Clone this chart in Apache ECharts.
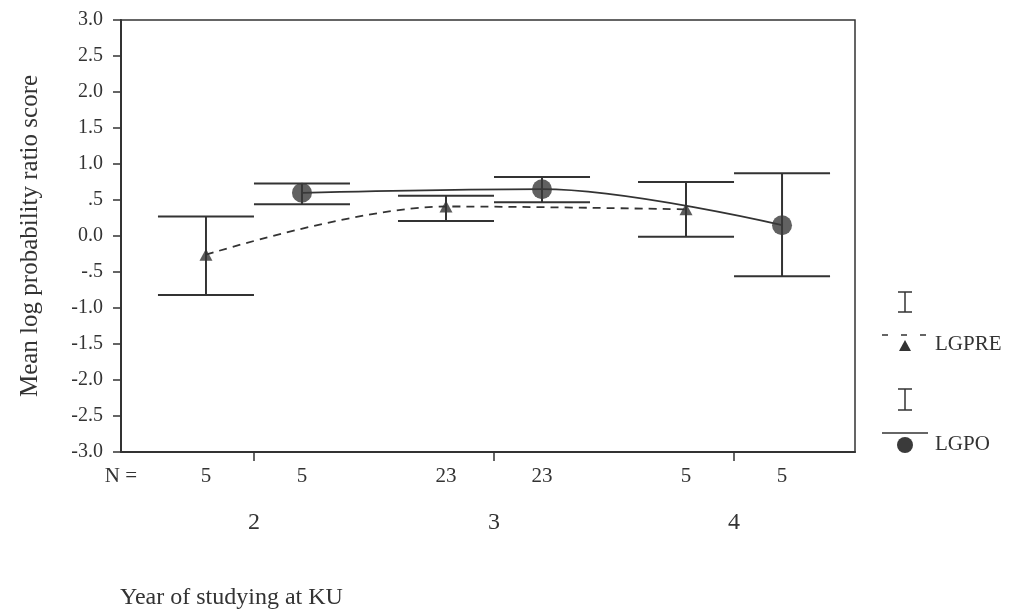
<!DOCTYPE html>
<html>
<head>
<meta charset="utf-8">
<script src="https://cdn.jsdelivr.net/npm/echarts@6/dist/echarts.min.js"></script>
<style>
  html, body { margin: 0; padding: 0; background: #fff; }
  #chart { width: 1014px; height: 610px; }
</style>
</head>
<body>
<div id="chart"></div>
<script>
// years on the x axis, groups drawn left/right of each year
const years = [2, 3, 4];
const yearLabels = ['2', '3', '4'];

// LGPRE (triangle, dashed line)
const preMean = [-0.26, 0.41, 0.37];
const preLow = [-0.82, 0.21, -0.01];
const preHigh = [0.27, 0.56, 0.75];
const preN = [5, 23, 5];

// LGPO (circle, solid line)
const poMean = [0.60, 0.65, 0.15];
const poLow = [0.44, 0.47, -0.56];
const poHigh = [0.73, 0.82, 0.87];
const poN = [5, 23, 5];

const yTicks = [-3, -2.5, -2, -1.5, -1, -0.5, 0, 0.5, 1, 1.5, 2, 2.5, 3];
const yTickLabels = ['-3.0', '-2.5', '-2.0', '-1.5', '-1.0', '-.5', '0.0', '.5', '1.0', '1.5', '2.0', '2.5', '3.0'];

const SHIFT = 0.2; // group offset from the year tick
const X_MIN = 1.446;
const X_MAX = 4.504;
const INK = '#333';
const SERIF = '"Liberation Serif", "DejaVu Serif", serif';

const preX = years.map(y => y - SHIFT);
const poX = years.map(y => y + SHIFT);

const nValues = [X_MIN];
const nLabels = ['N ='];
years.forEach((y, i) => {
  nValues.push(preX[i], poX[i]);
  nLabels.push(String(preN[i]), String(poN[i]));
});

function errorBar(params, api) {
  const x = api.value(0);
  const lo = api.coord([x, api.value(1)]);
  const hi = api.coord([x, api.value(2)]);
  const hw = api.size([SHIFT, 0])[0];
  const style = { stroke: INK, lineWidth: 2 };
  return {
    type: 'group',
    children: [
      { type: 'line', shape: { x1: lo[0], y1: lo[1], x2: hi[0], y2: hi[1] }, style },
      { type: 'line', shape: { x1: hi[0] - hw, y1: hi[1], x2: hi[0] + hw, y2: hi[1] }, style },
      { type: 'line', shape: { x1: lo[0] - hw, y1: lo[1], x2: lo[0] + hw, y2: lo[1] }, style },
    ],
  };
}

const chart = echarts.init(document.getElementById('chart'));

const legendLine = { stroke: INK, lineWidth: 1.5 };

const option = {
  backgroundColor: '#fff',
  animation: false,
  textStyle: { fontFamily: SERIF, color: INK },
  grid: {
    left: 121, right: 159, top: 20, bottom: 158,
    show: true, borderColor: INK, borderWidth: 1.5,
  },
  xAxis: [
    {
      type: 'value',
      min: X_MIN,
      max: X_MAX,
      position: 'bottom',
      splitLine: { show: false },
      axisLine: { onZero: false, lineStyle: { color: INK, width: 2 } },
      axisTick: {
        show: true, length: 9, inside: false,
        customValues: years,
        lineStyle: { color: INK, width: 1.5 },
      },
      axisLabel: {
        customValues: years,
        margin: 59,
        fontSize: 24,
        fontFamily: SERIF,
        color: INK,
        formatter: v => yearLabels[years.indexOf(Math.round(v))],
      },
    },
    {
      type: 'value',
      min: X_MIN,
      max: X_MAX,
      position: 'bottom',
      splitLine: { show: false },
      axisLine: { show: false, onZero: false },
      axisTick: { show: false },
      axisLabel: {
        customValues: nValues,
        showMinLabel: true,
        margin: 14,
        fontSize: 21,
        fontFamily: SERIF,
        color: INK,
        formatter: v => {
          const i = nValues.findIndex(n => Math.abs(n - v) < 1e-6);
          return i >= 0 ? nLabels[i] : '';
        },
      },
    },
  ],
  yAxis: {
    type: 'value',
    min: -3,
    max: 3,
    interval: 0.5,
    name: 'Mean log probability ratio score',
    nameLocation: 'middle',
    nameGap: 78,
    nameTextStyle: { fontSize: 25, fontFamily: SERIF, color: INK },
    splitLine: { show: false },
    axisLine: { show: true, lineStyle: { color: INK, width: 2 } },
    axisTick: { show: true, length: 8, lineStyle: { color: INK, width: 1.5 } },
    axisLabel: {
      margin: 18,
      fontSize: 20,
      fontFamily: SERIF,
      color: INK,
      formatter: v => {
        const i = yTicks.findIndex(t => Math.abs(t - v) < 1e-6);
        return i >= 0 ? yTickLabels[i] : '';
      },
    },
  },
  series: [
    {
      name: 'LGPRE',
      type: 'line',
      data: preX.map((x, i) => [x, preMean[i]]),
      smooth: 0.35,
      showSymbol: false,
      lineStyle: { color: INK, width: 1.8, type: [8, 6] },
      z: 2,
    },
    {
      name: 'LGPO',
      type: 'line',
      data: poX.map((x, i) => [x, poMean[i]]),
      smooth: 0.35,
      showSymbol: false,
      lineStyle: { color: INK, width: 1.8 },
      z: 2,
    },
    {
      name: 'LGPRE bars',
      type: 'custom',
      renderItem: errorBar,
      data: preX.map((x, i) => [x, preLow[i], preHigh[i]]),
      z: 3,
    },
    {
      name: 'LGPO bars',
      type: 'custom',
      renderItem: errorBar,
      data: poX.map((x, i) => [x, poLow[i], poHigh[i]]),
      z: 3,
    },
    {
      name: 'LGPRE mean',
      type: 'scatter',
      symbol: 'triangle',
      symbolSize: [13, 12],
      itemStyle: { color: INK },
      data: preX.map((x, i) => [x, preMean[i]]),
      z: 4,
    },
    {
      name: 'LGPO mean',
      type: 'scatter',
      symbol: 'circle',
      symbolSize: 20,
      itemStyle: { color: '#3a3a3a' },
      data: poX.map((x, i) => [x, poMean[i]]),
      z: 4,
    },
  ],
  graphic: [
    // legend: LGPRE
    { type: 'line', shape: { x1: 905, y1: 292, x2: 905, y2: 312 }, style: legendLine },
    { type: 'line', shape: { x1: 898, y1: 292, x2: 912, y2: 292 }, style: legendLine },
    { type: 'line', shape: { x1: 898, y1: 312, x2: 912, y2: 312 }, style: legendLine },
    { type: 'line', shape: { x1: 882, y1: 335, x2: 927, y2: 335 }, style: { stroke: INK, lineWidth: 1.5, lineDash: [6, 13] } },
    { type: 'polygon', shape: { points: [[905, 340], [899, 351], [911, 351]] }, style: { fill: INK } },
    { type: 'text', left: 935, top: 334, style: { text: 'LGPRE', font: '21px ' + SERIF, fill: INK } },
    // legend: LGPO
    { type: 'line', shape: { x1: 905, y1: 389, x2: 905, y2: 410 }, style: legendLine },
    { type: 'line', shape: { x1: 898, y1: 389, x2: 912, y2: 389 }, style: legendLine },
    { type: 'line', shape: { x1: 898, y1: 410, x2: 912, y2: 410 }, style: legendLine },
    { type: 'line', shape: { x1: 882, y1: 433, x2: 928, y2: 433 }, style: legendLine },
    { type: 'circle', shape: { cx: 905, cy: 445, r: 8 }, style: { fill: '#3a3a3a' } },
    { type: 'text', left: 935, top: 434, style: { text: 'LGPO', font: '21px ' + SERIF, fill: INK } },
    // x axis title
    { type: 'text', left: 120, top: 586, style: { text: 'Year of studying at KU', font: '24px ' + SERIF, fill: INK } },
  ],
};

chart.setOption(option);
</script>
</body>
</html>
